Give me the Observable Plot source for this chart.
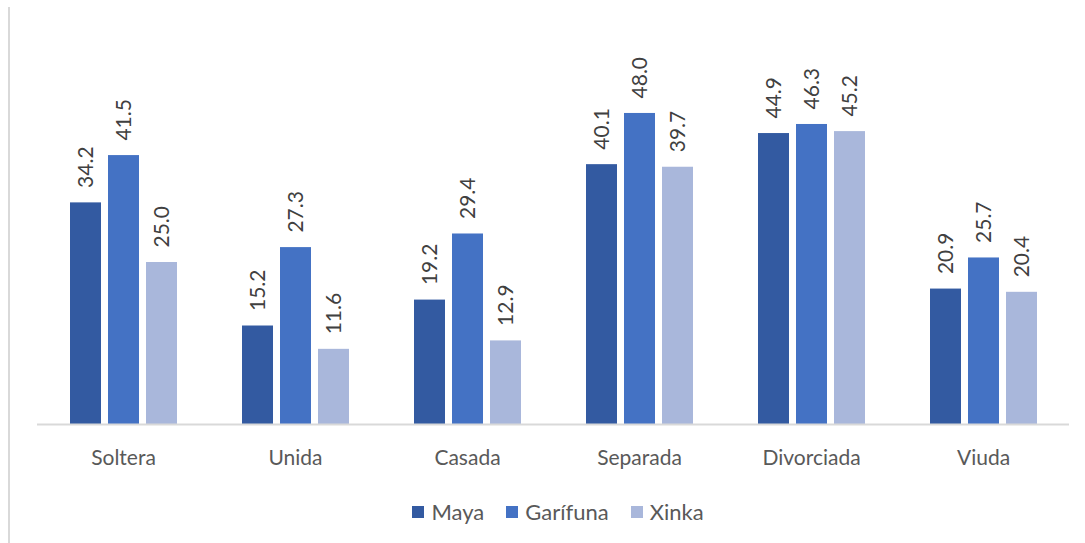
<!DOCTYPE html>
<html>
<head>
<meta charset="utf-8">
<script src="https://cdn.jsdelivr.net/npm/d3@7"></script>
<script src="https://cdn.jsdelivr.net/npm/@observablehq/plot@0.6"></script>
<style>
  html, body { margin: 0; padding: 0; background: #fff; }
  #wrap { position: relative; width: 1085px; height: 543px; font-family: Lato, "Open Sans", sans-serif; color: #595959; }
  #edge { position: absolute; left: 8px; top: 7px; width: 2px; height: 536px; background: #d9d9d9; }
  #legend { position: absolute; top: 498px; left: 0; width: 1085px; display: flex; justify-content: center; gap: 22px; font-size: 22px; padding-left: 31px; box-sizing: border-box; }
  #legend .item { display: flex; align-items: center; gap: 7px; }
  #legend .sw { width: 12px; height: 12px; display: inline-block; }
</style>
</head>
<body>
<div id="wrap"><div id="edge"></div><div id="chart"></div><div id="legend"></div></div>
<script>
const categories = ["Soltera", "Unida", "Casada", "Separada", "Divorciada", "Viuda"];
const series = ["Maya", "Garífuna", "Xinka"];
const maya = [34.2, 15.2, 19.2, 40.1, 44.9, 20.9];
const garifuna = [41.5, 27.3, 29.4, 48.0, 46.3, 25.7];
const xinka = [25.0, 11.6, 12.9, 39.7, 45.2, 20.4];
const colors = ["#335AA1", "#4472C4", "#A9B7DB"];

const seriesValues = [maya, garifuna, xinka];
const data = [];
categories.forEach((c, i) => {
  series.forEach((s, j) => data.push({categoria: c, grupo: s, valor: seriesValues[j][i]}));
});

const chart = Plot.plot({
  width: 1085,
  height: 488,
  marginLeft: 36,
  marginRight: 16,
  marginTop: 100,
  marginBottom: 64,
  style: {fontFamily: "Lato, 'Open Sans', sans-serif", fontSize: "21px", color: "#595959", background: "transparent"},
  fx: {domain: categories, padding: 0, axis: "bottom", label: null, tickSize: 0, tickPadding: 26},
  x: {domain: series, paddingInner: 0.19, paddingOuter: 0.82, axis: null},
  y: {domain: [0, 50], axis: null},
  color: {domain: series, range: colors},
  marks: [
    Plot.barY(data, {fx: "categoria", x: "grupo", y: "valor", fill: "grupo"}),
    Plot.ruleY([0], {stroke: "#d9d9d9", strokeWidth: 2}),
    Plot.text(data, {fx: "categoria", x: "grupo", y: "valor", text: d => d.valor.toFixed(1), rotate: -90, textAnchor: "start", lineAnchor: "middle", dy: -15, fill: "#404040", fontSize: 21})
  ]
});
document.getElementById("chart").appendChild(chart);

const legend = document.getElementById("legend");
series.forEach((s, i) => {
  const item = document.createElement("div");
  item.className = "item";
  item.innerHTML = `<span class="sw" style="background:${colors[i]}"></span><span>${s}</span>`;
  legend.appendChild(item);
});
</script>
</body>
</html>
